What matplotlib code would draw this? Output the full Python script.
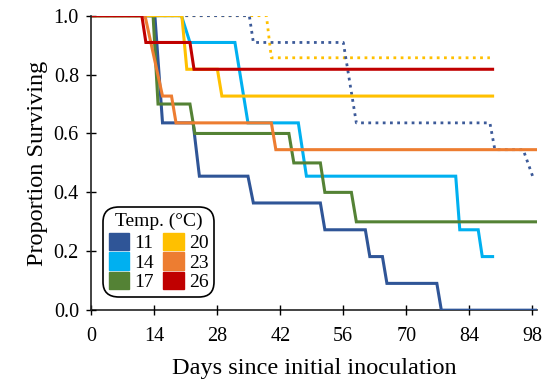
import matplotlib
matplotlib.use("Agg")
import matplotlib.pyplot as plt
from matplotlib.patches import Patch

plt.rcParams['font.family'] = ['Liberation Serif', 'DejaVu Serif']

# survival curves (day, proportion surviving)
t11_x = [0, 14.1, 15.8, 22.6, 24.0, 34.8, 36.0, 50.9, 51.9, 60.9, 61.9, 64.7, 65.7, 76.8, 77.8, 99]
t11_y = [1, 1, 0.636, 0.636, 0.455, 0.455, 0.364, 0.364, 0.273, 0.273, 0.182, 0.182, 0.091, 0.091, 0, 0]

t14_x = [0, 20.0, 21.9, 31.9, 34.8, 46.0, 47.8, 81.0, 81.9, 86.0, 86.9, 89.2]
t14_y = [1, 1, 0.909, 0.909, 0.636, 0.636, 0.455, 0.455, 0.273, 0.273, 0.182, 0.182]

t17_x = [0, 13.7, 14.8, 21.9, 23.0, 43.9, 45.0, 50.9, 51.9, 57.8, 58.9, 99]
t17_y = [1, 1, 0.7, 0.7, 0.6, 0.6, 0.5, 0.5, 0.4, 0.4, 0.3, 0.3]

t20_x = [0, 20.1, 21.2, 28.0, 29.0, 89.2]
t20_y = [1, 1, 0.818, 0.818, 0.727, 0.727]

t23_x = [0, 11.9, 15.8, 17.8, 18.8, 40.0, 41.0, 99]
t23_y = [1, 1, 0.727, 0.727, 0.636, 0.636, 0.545, 0.545]

t26_x = [0, 11.2, 12.1, 21.9, 22.8, 89.2]
t26_y = [1, 1, 0.909, 0.909, 0.818, 0.818]

# dotted curves (not in legend)
dot20_x = [0, 38.9, 40.0, 88.6]
dot20_y = [1, 1, 0.857, 0.857]
dot11_x = [0, 35.1, 36.0, 56.0, 58.9, 88.6, 89.7, 96.0, 98.1]
dot11_y = [1, 1, 0.909, 0.909, 0.636, 0.636, 0.545, 0.545, 0.455]

temps = ['11', '14', '17', '20', '23', '26']
colors = ['#2f5597', '#00b0f0', '#548235', '#ffc000', '#ed7d31', '#c00000']
xticks = [0, 14, 28, 42, 56, 70, 84, 98]
yticks = [0.0, 0.2, 0.4, 0.6, 0.8, 1.0]

fig = plt.figure(figsize=(5.51, 3.82), dpi=100)
ax = fig.add_axes([0.166, 0.188, 0.808, 0.771])

ax.plot(dot20_x, dot20_y, color='#ffc000', lw=2, ls=(0, (1, 1.6)), zorder=1)
ax.plot(dot11_x, dot11_y, color='#3c5a99', lw=2, ls=(0, (1, 1.6)), zorder=1)

series = [(t11_x, t11_y), (t14_x, t14_y), (t17_x, t17_y),
          (t20_x, t20_y), (t23_x, t23_y), (t26_x, t26_y)]
for (xs, ys), c in zip(series, colors):
    ax.plot(xs, ys, color=c, lw=2.2, zorder=2, solid_joinstyle='miter')

ax.set_xlim(0, 99)
ax.set_ylim(0, 1.0)
ax.set_xticks(xticks)
ax.set_yticks(yticks)
ax.set_yticklabels(['%.1f' % v for v in yticks])
ax.tick_params(direction='inout', length=7, width=1, labelsize=14.5, colors='black')
ax.tick_params(axis='x', pad=8.5)
ax.tick_params(axis='y', pad=5.5)
for s in ['top', 'right']:
    ax.spines[s].set_visible(False)
for s in ['left', 'bottom']:
    ax.spines[s].set_linewidth(1.2)
    ax.spines[s].set_color('#222222')
ax.spines['bottom'].set_zorder(0.5)

ax.set_xlabel('Days since initial inoculation', fontsize=17.5, labelpad=9)
ax.set_ylabel('Proportion Surviving', fontsize=17.5, labelpad=4)

handles = [Patch(facecolor=c, edgecolor=c) for c in colors]
leg = ax.legend(handles, temps, title='Temp. (°C)', ncol=2, loc='lower left',
                bbox_to_anchor=(0.026, 0.044), borderaxespad=0, fontsize=14,
                title_fontsize=14, handlelength=1.05, handleheight=1.0,
                handletextpad=0.25, columnspacing=0.5, labelspacing=0.02,
                borderpad=0.3, frameon=True, fancybox=True, edgecolor='black',
                framealpha=1)
leg.get_frame().set_linewidth(1.2)
leg.get_frame().set_boxstyle('round', pad=0, rounding_size=0.8)
leg._legend_box.sep = 2

fig.savefig('out.png', dpi=100)
